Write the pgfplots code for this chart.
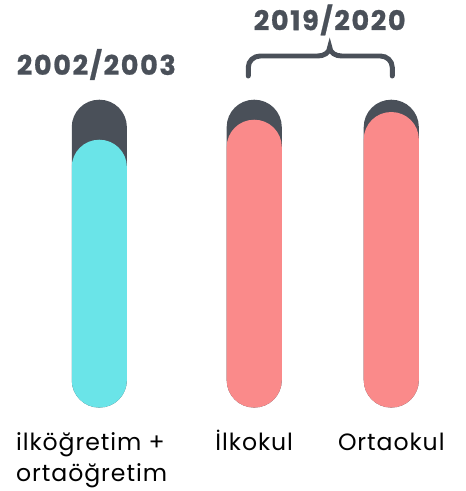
\documentclass[border=0pt]{standalone}
\usepackage{fontspec}
\setmainfont{Poppins}
\usepackage{pgfplots}
\pgfplotsset{compat=1.18}
\definecolor{darkc}{HTML}{4A5059}
\definecolor{tealc}{HTML}{6AE4E8}
\definecolor{pinkc}{HTML}{FA8A8A}
\newcommand\titlefont{\fontsize{20.5}{24}\selectfont\bfseries\addfontfeature{LetterSpace=6,FakeBold=0.8}}
\newcommand\labfont{\fontsize{17.8}{20}\selectfont\addfontfeature{LetterSpace=4}}
\begin{document}
\begin{tikzpicture}
\begin{axis}[
  scale only axis, width=351.75pt, height=368.25pt,
  xmin=0, xmax=469, ymin=-27.097, ymax=131.29,
  hide axis, clip=false,
  ybar, bar width=55.5, bar shift=0pt,
]
\addplot[fill=darkc, draw=none, rounded corners=20.7pt] coordinates {(100,100) (256,100) (394,100)};
\addplot[fill=tealc, draw=none, rounded corners=20.7pt] coordinates {(100,87)};
\addplot[fill=pinkc, draw=none, rounded corners=20.7pt] coordinates {(256,93.5) (394,96)};
\draw[draw=none] (rel axis cs:0,0) rectangle (rel axis cs:1,1);
\node[anchor=base, text=darkc, font=\titlefont] at (axis cs:97,108.06) {2002/2003};
\node[anchor=base, text=darkc, font=\titlefont] at (axis cs:332,122.58) {2019/2020};
\draw[darkc, line width=3.75pt, line cap=round] (axis cs:250,107.7) -- (axis cs:250,110.5) to[out=90,in=180] (axis cs:262,114.2) -- (axis cs:320,114.2) to[out=0,in=-90] (axis cs:332,117.1) to[out=-90,in=180] (axis cs:344,114.2) -- (axis cs:383,114.2) to[out=0,in=90] (axis cs:395,110.5) -- (axis cs:395,107.7);
\node[anchor=base west, inner sep=0pt, font=\labfont] at (axis cs:16,-13.8) {ilköğretim +};
\node[anchor=base west, inner sep=0pt, font=\labfont] at (axis cs:16,-24.1) {ortaöğretim};
\node[anchor=base, inner sep=0pt, font=\labfont] at (axis cs:256,-13.8) {İlkokul};
\node[anchor=base, inner sep=0pt, font=\labfont] at (axis cs:394,-13.8) {Ortaokul};
\end{axis}
\end{tikzpicture}
\end{document}
